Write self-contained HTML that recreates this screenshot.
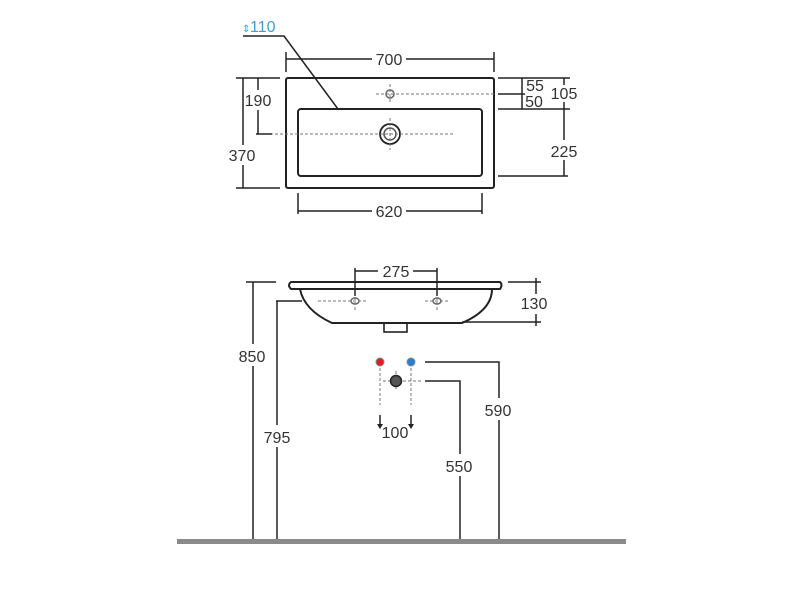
<!DOCTYPE html>
<html><head><style>body{margin:0;background:#fff}svg{display:block}text{font-family:"Liberation Sans",sans-serif;font-size:16px;fill:#333}</style></head>
<body>
<svg width="800" height="600" viewBox="0 0 800 600" xmlns="http://www.w3.org/2000/svg">
<g stroke="#222" fill="none" stroke-width="1.5">
<rect x="286" y="78" width="208" height="110" rx="2" stroke-width="2"/>
<rect x="298" y="109" width="184" height="67" rx="3" stroke-width="2"/>
<circle cx="390" cy="94" r="4" stroke="#666"/>
<circle cx="390" cy="134" r="10" stroke-width="1.8"/>
<circle cx="390" cy="134" r="6" stroke="#555"/>
<g stroke="#777" stroke-dasharray="3,2" stroke-width="1">
<line x1="376" y1="94" x2="494" y2="94"/>
<line x1="265" y1="134" x2="455" y2="134"/>
<line x1="390" y1="118" x2="390" y2="150"/>
<line x1="390" y1="84" x2="390" y2="104"/>
</g>
<line x1="286" y1="59" x2="372" y2="59"/><line x1="406" y1="59" x2="494" y2="59"/>
<line x1="286" y1="52" x2="286" y2="72"/><line x1="494" y1="52" x2="494" y2="72"/>
<line x1="298" y1="211" x2="372" y2="211"/><line x1="406" y1="211" x2="482" y2="211"/>
<line x1="298" y1="193" x2="298" y2="214"/><line x1="482" y1="193" x2="482" y2="214"/>
<line x1="236" y1="78" x2="280" y2="78"/><line x1="236" y1="188" x2="280" y2="188"/>
<line x1="243" y1="78" x2="243" y2="145"/><line x1="243" y1="165" x2="243" y2="188"/>
<line x1="258" y1="78" x2="258" y2="90"/><line x1="258" y1="110" x2="258" y2="134"/>
<line x1="256" y1="134" x2="272" y2="134"/>
<line x1="498" y1="78" x2="570" y2="78"/><line x1="498" y1="109" x2="570" y2="109"/>
<line x1="498" y1="94" x2="525" y2="94"/><line x1="498" y1="176" x2="568" y2="176"/>
<line x1="522" y1="78" x2="522" y2="109"/>
<line x1="564" y1="78" x2="564" y2="85"/><line x1="564" y1="102" x2="564" y2="140"/><line x1="564" y1="160" x2="564" y2="176"/>
<polyline points="243,36 284,36 338,109"/>
<path d="M291,282 L500,282 Q503,285 500,289 L291,289 Q287,285 291,282 Z" stroke-width="2"/>
<path d="M300,289 Q304,310 332,323 L462,323 Q492,310 492,289" stroke-width="2"/>
<rect x="384" y="323" width="23" height="9" stroke-width="1.6"/>
<ellipse cx="355" cy="301" rx="4" ry="3" stroke="#666"/>
<ellipse cx="437" cy="301" rx="4" ry="3" stroke="#666"/>
<g stroke="#777" stroke-dasharray="3,2" stroke-width="1">
<line x1="318" y1="301" x2="368" y2="301"/><line x1="425" y1="301" x2="450" y2="301"/>
<line x1="355" y1="292" x2="355" y2="310"/><line x1="437" y1="292" x2="437" y2="310"/>
<line x1="380" y1="368" x2="380" y2="405"/><line x1="411" y1="368" x2="411" y2="405"/>
<line x1="383" y1="381" x2="421" y2="381"/><line x1="396" y1="371" x2="396" y2="391"/>
</g>
<line x1="355" y1="271" x2="378" y2="271"/><line x1="413" y1="271" x2="437" y2="271"/>
<line x1="355" y1="268" x2="355" y2="296"/><line x1="437" y1="268" x2="437" y2="296"/>
<line x1="508" y1="282" x2="541" y2="282"/><line x1="462" y1="322" x2="541" y2="322"/>
<line x1="536" y1="278" x2="536" y2="294"/><line x1="536" y1="314" x2="536" y2="326"/>
<line x1="246" y1="282" x2="276" y2="282"/>
<line x1="253" y1="282" x2="253" y2="344"/><line x1="253" y1="366" x2="253" y2="542"/>
<line x1="276" y1="301" x2="302" y2="301"/>
<line x1="277" y1="301" x2="277" y2="425"/><line x1="277" y1="447" x2="277" y2="542"/>
<polyline points="425,362 499,362 499,398"/><line x1="499" y1="420" x2="499" y2="542"/>
<polyline points="425,381 460,381 460,454"/><line x1="460" y1="476" x2="460" y2="542"/>
<line x1="380" y1="415" x2="380" y2="428"/><line x1="411" y1="415" x2="411" y2="428"/>
</g>
<path d="M377,424 L380,429 L383,424Z M408,424 L411,429 L414,424Z" fill="#222"/>
<circle cx="380" cy="362" r="4" fill="#e02020" stroke="#888"/>
<circle cx="411" cy="362" r="4" fill="#2a7fd0" stroke="#888"/>
<circle cx="396" cy="381" r="5.5" fill="#555" stroke="#222" stroke-width="1.5"/>
<rect x="177" y="539" width="449" height="5" fill="#8a8a8a"/>
<text x="389" y="65" text-anchor="middle">700</text>
<text x="389" y="217" text-anchor="middle">620</text>
<text x="258" y="106" text-anchor="middle">190</text>
<text x="242" y="161" text-anchor="middle">370</text>
<text x="535" y="91" text-anchor="middle">55</text>
<text x="534" y="107" text-anchor="middle">50</text>
<text x="564" y="99" text-anchor="middle">105</text>
<text x="564" y="157" text-anchor="middle">225</text>
<text x="250" y="32" style="fill:#3aa0d0">110</text>
<text x="242" y="32" style="fill:#3aa0d0;font-size:10px">⇕</text>
<text x="396" y="277" text-anchor="middle">275</text>
<text x="534" y="309" text-anchor="middle">130</text>
<text x="252" y="362" text-anchor="middle">850</text>
<text x="277" y="443" text-anchor="middle">795</text>
<text x="498" y="416" text-anchor="middle">590</text>
<text x="459" y="472" text-anchor="middle">550</text>
<text x="395" y="438" text-anchor="middle">100</text>
</svg>
</body></html>
